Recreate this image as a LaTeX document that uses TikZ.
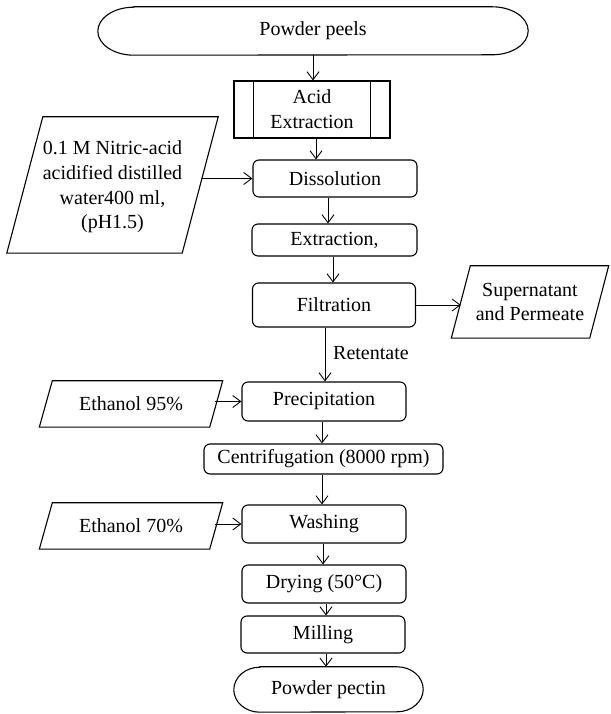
\documentclass[tikz,border=0pt]{standalone}
\usepackage{fontspec}
\setmainfont{Liberation Serif}
\usetikzlibrary{arrows.meta,calc}
\begin{document}
\begin{tikzpicture}[x=1pt,y=1pt, font=\fontsize{20}{24.7}\selectfont,
  box/.style={draw, rounded corners=6pt, line width=1.1pt, inner sep=0pt, align=center},
  ghost/.style={inner sep=0pt, align=center},
  arr/.style={-{Straight Barb[length=8pt,width=12pt]}, line width=0.9pt},
  outline/.style={line width=1.1pt}]
\useasboundingbox (0,0) rectangle (610,714);

% terminator top
\node[ghost, minimum width=430pt, minimum height=48pt] (pp) at (313,683) {Powder peels};
\draw[outline] ([xshift=36pt]pp.north west) -- ([xshift=-36pt]pp.north east)
  arc[start angle=90,end angle=-90,x radius=36pt,y radius=24pt]
  -- ([xshift=36pt]pp.south west)
  arc[start angle=270,end angle=90,x radius=36pt,y radius=24pt] -- cycle;

% predefined process
\node[box, sharp corners, minimum width=156pt, minimum height=57pt] (acid) at (312,604.5) {Acid\\Extraction};
\draw[outline] ([xshift=20pt]acid.north west) -- ([xshift=20pt]acid.south west);
\draw[outline] ([xshift=-20pt]acid.north east) -- ([xshift=-20pt]acid.south east);

% process boxes
\node[box, minimum width=164pt, minimum height=37pt] (diss) at (335,535.5) {Dissolution};
\node[box, minimum width=165pt, minimum height=32pt] (extr) at (334.5,474) {Extraction,};
\node[box, minimum width=163pt, minimum height=44pt] (filt) at (334,409) {Filtration};
\node[box, minimum width=164pt, minimum height=39pt] (prec) at (324,312.5) {Precipitation};
\node[box, minimum width=239pt, minimum height=30pt] (cent) at (323.5,255) {Centrifugation (8000 rpm)};
\node[box, minimum width=164pt, minimum height=38pt] (wash) at (324,190) {Washing};
\node[box, minimum width=164pt, minimum height=38pt] (dry) at (324,130) {Drying (50°C)};
\node[box, minimum width=164pt, minimum height=37pt] (mill) at (323,79.5) {Milling};

% terminator bottom
\node[ghost, minimum width=189pt, minimum height=45pt] (pect) at (328.5,24.5) {Powder pectin};
\draw[outline] ([xshift=26pt]pect.north west) -- ([xshift=-26pt]pect.north east)
  arc[start angle=90,end angle=-90,x radius=26pt,y radius=22.5pt]
  -- ([xshift=26pt]pect.south west)
  arc[start angle=270,end angle=90,x radius=26pt,y radius=22.5pt] -- cycle;

% input/output parallelograms
\node[ghost, minimum width=175pt, minimum height=136pt] (nit) at (112.5,527)
  {0.1 M Nitric-acid\\acidified distilled\\water400 ml,\\(pH1.5)};
\draw[outline] ([xshift=-18pt,yshift=2pt]nit.south west) -- ([xshift=-18pt,yshift=2pt]nit.south east)
  -- ([xshift=18pt,yshift=2pt]nit.north east) -- ([xshift=18pt,yshift=2pt]nit.north west) -- cycle;

\node[ghost, minimum width=138pt, minimum height=72pt] (sup) at (530,412) {Supernatant\\and Permeate};
\draw[outline] ([xshift=-9.5pt]sup.south west) -- ([xshift=-9.5pt]sup.south east)
  -- ([xshift=9.5pt]sup.north east) -- ([xshift=9.5pt]sup.north west) -- cycle;

\node[ghost, minimum width=170pt, minimum height=46pt] (e95) at (131,310) {Ethanol 95\%};
\draw[outline] ([xshift=-6.5pt]e95.south west) -- ([xshift=-6.5pt]e95.south east)
  -- ([xshift=6.5pt]e95.north east) -- ([xshift=6.5pt]e95.north west) -- cycle;

\node[ghost, minimum width=170pt, minimum height=46pt] (e70) at (131,188) {Ethanol 70\%};
\draw[outline] ([xshift=-6.5pt]e70.south west) -- ([xshift=-6.5pt]e70.south east)
  -- ([xshift=6.5pt]e70.north east) -- ([xshift=6.5pt]e70.north west) -- cycle;

\node[ghost, anchor=west] (ret) at (333,361) {Retentate};

% vertical connectors
\draw[arr] (pp.south) -- (pp.south |- acid.north);
\draw[arr] ([xshift=4pt]acid.south) -- ([xshift=4pt]acid.south |- diss.north);
\draw[arr] ([xshift=-7pt]diss.south) -- ([xshift=-7pt]diss.south |- extr.north);
\draw[arr] ([xshift=-1.5pt]extr.south) -- ([xshift=-1.5pt]extr.south |- filt.north);
\draw[arr] ([xshift=-9pt]filt.south) -- ([xshift=-9pt]filt.south |- prec.north);
\draw[arr] ([xshift=-2pt]prec.south) -- ([xshift=-2pt]prec.south |- cent.north);
\draw[arr] ([xshift=-1.5pt]cent.south) -- ([xshift=-1.5pt]cent.south |- wash.north);
\draw[arr] ([xshift=-1pt]wash.south) -- ([xshift=-1pt]wash.south |- dry.north);
\draw[arr] ([xshift=2pt]dry.south) -- ([xshift=2pt]dry.south |- mill.north);
\draw[arr] ([xshift=3pt]mill.south) -- ([xshift=3pt]mill.south |- pect.north);

% horizontal connectors
\draw[arr] ([xshift=1.5pt]nit.east |- diss.west) -- (diss.west);
\draw[arr] (filt.east) -- (filt.east -| sup.west);
\draw[arr] ([xshift=-1pt]e95.east |- prec.west) -- (prec.west);
\draw[arr] ([xshift=-1pt]e70.east |- wash.west) -- (wash.west);
\end{tikzpicture}
\end{document}
